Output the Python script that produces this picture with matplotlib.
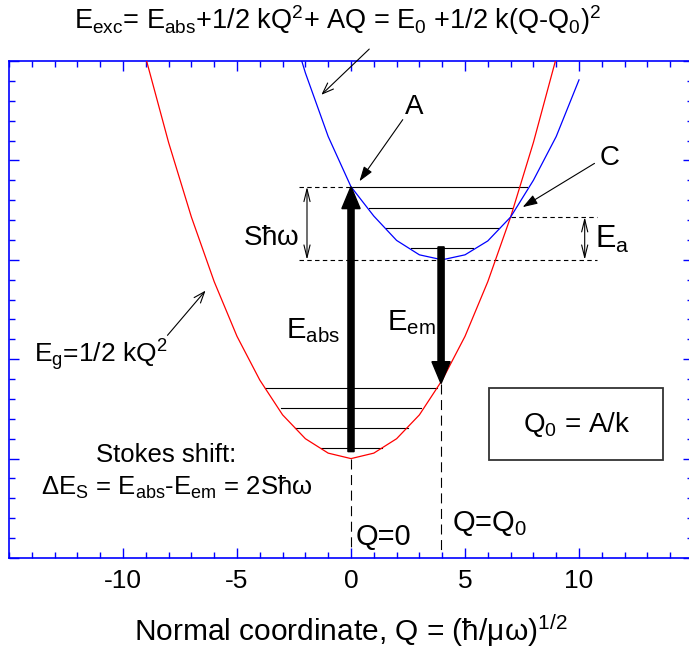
import matplotlib
matplotlib.use("Agg")
import matplotlib.pyplot as plt
from matplotlib.patches import Rectangle
from matplotlib.ticker import MultipleLocator

plt.rcParams['font.family'] = ['Liberation Sans', 'DejaVu Sans']
plt.rcParams['mathtext.fontset'] = 'custom'
plt.rcParams['mathtext.rm'] = 'Liberation Sans'
plt.rcParams['mathtext.it'] = 'Liberation Sans:italic'
plt.rcParams['mathtext.default'] = 'regular'
plt.rcParams['axes.unicode_minus'] = False

# * Data
# ground state parabola (red), polyline vertices
Q_g = [-10, -9, -8, -7, -6, -5, -4, -3, -2, -1, 0, 1, 2, 3, 4, 5, 6, 7, 8, 9, 10]
E_g = [50.0, 40.3, 31.8, 24.3, 17.8, 12.3, 7.9, 4.4, 2.0, 0.55, 0.0,
       0.55, 2.0, 4.4, 7.9, 12.3, 17.8, 24.3, 31.8, 40.3, 50.0]
# excited state parabola (blue)
Q_exc = [-3, -2, -1, 0, 1, 2, 3, 4, 5, 6, 7, 8, 9, 10]
E_exc = [46.3, 38.8, 32.4, 27.35, 24.4, 21.95, 20.5, 20.0, 20.5, 21.9,
         24.3, 28.0, 32.4, 38.1]

# vibrational levels : energy, left Q, right Q
lev_g_E = [7.13, 5.06, 3.05, 1.04]
lev_g_left = [-3.77, -3.05, -2.45, -1.3]
lev_g_right = [3.77, 3.07, 2.49, 1.38]
lev_exc_E = [27.35, 25.18, 23.17, 21.14]
lev_exc_left = [0.0, 0.8, 1.52, 2.64]
lev_exc_right = [7.7, 7.07, 6.5, 5.36]

x_ticks = [-10, -5, 0, 5, 10]

Q0 = 3.95          # excited state minimum
E0 = 20.0          # excited state minimum energy
E_A = 27.35        # point A (absorption end)
E_C = 24.3         # point C (crossing)
Q_C = 7.0
E_abs_start = 0.7
E_em_start = 21.3
E_em_end = 7.55

# * Plot
fig = plt.figure(figsize=(6.89, 6.52), dpi=100)
ax = fig.add_axes([9/689, 1-558/652, (693-9)/689, (558-61)/652])
ax.set_xlim(-15, 15)
ax.set_ylim(-10, 40)

ax.plot(Q_g, E_g, color='red', lw=0.9, zorder=3)
ax.plot(Q_exc, E_exc, color='blue', lw=0.9, zorder=3)

for e, l, r in zip(lev_g_E, lev_g_left, lev_g_right):
    ax.plot([l, r], [e, e], color='black', lw=0.8)
for e, l, r in zip(lev_exc_E, lev_exc_left, lev_exc_right):
    ax.plot([l, r], [e, e], color='black', lw=0.8)

# dashed guide lines
dash = dict(color='black', lw=0.8, ls=(0, (4, 3)))
vdash = dict(color='black', lw=0.8, ls=(0, (9, 5)))
ax.plot([-2.27, 0], [E_A, E_A], **dash)
ax.plot([-2.27, 10.8], [E0, E0], **dash)
ax.plot([Q_C, 10.8], [E_C, E_C], **dash)
ax.plot([0, 0], [0, -9.2], **vdash)
ax.plot([Q0, Q0], [E_em_end, -9.2], **vdash)

# thick absorption / emission arrows
ax.arrow(0, E_abs_start, 0, E_A - E_abs_start, width=0.27, head_width=0.8,
         head_length=2.2, length_includes_head=True, color='black', zorder=4)
ax.arrow(Q0, E_em_start, 0, E_em_end - E_em_start, width=0.27, head_width=0.8,
         head_length=2.2, length_includes_head=True, color='black', zorder=4)

# double arrows
dbl = dict(arrowstyle='<->,head_length=0.9,head_width=0.22', color='black', lw=0.8,
           shrinkA=0, shrinkB=0)
ax.annotate('', xy=(-1.93, E0), xytext=(-1.93, E_A), arrowprops=dbl)
ax.annotate('', xy=(10.25, E0), xytext=(10.25, E_C), arrowprops=dbl)

# pointer arrows
filled = dict(arrowstyle='-|>,head_length=0.9,head_width=0.3', color='black', lw=0.8,
              shrinkA=0, shrinkB=0)
opened = dict(arrowstyle='->,head_length=0.8,head_width=0.3', color='black', lw=0.8,
              shrinkA=0, shrinkB=0)
ax.annotate('', xy=(0.37, 27.9), xytext=(2.27, 34.1), arrowprops=filled)
ax.annotate('', xy=(7.53, 25.3), xytext=(10.68, 29.7), arrowprops=filled)
ax.annotate('', xy=(-1.3, 36.6), xytext=(0.8, 41.2), arrowprops=opened,
            annotation_clip=False)
ax.annotate('', xy=(-6.38, 16.9), xytext=(-8.05, 12.4), arrowprops=opened)

# texts
fig.text(337.5/689, 1-20/652,
         r'$E_{exc}$= $E_{abs}$+1/2 kQ$^2$+ AQ = $E_0$ +1/2 k(Q-Q$_0$)$^2$',
         ha='center', va='center', fontsize=19.5)
ax.text(2.78, 35.4, 'A', ha='center', va='center', fontsize=20)
ax.text(11.33, 30.2, 'C', ha='center', va='center', fontsize=20)
ax.text(-3.5, 22.2, r'S$\hbar\omega$', ha='center', va='center', fontsize=20)
ax.text(-1.65, 12.9, r'$E_{abs}$', ha='center', va='center', fontsize=21)
ax.text(2.65, 13.7, r'$E_{em}$', ha='center', va='center', fontsize=21)
ax.text(11.45, 22.0, r'$E_a$', ha='center', va='center', fontsize=22)
ax.text(-13.9, 10.4, r'$E_g$=1/2 kQ$^2$', ha='left', va='center', fontsize=19)
ax.text(-8.1, 0.36, 'Stokes shift:', ha='center', va='center', fontsize=18.5)
ax.text(-13.6, -2.86, r'$\Delta E_S$ = $E_{abs}$-$E_{em}$ = 2S$\hbar\omega$',
        ha='left', va='center', fontsize=18.5)
ax.text(0.2, -7.9, 'Q=0', ha='left', va='center', fontsize=21)
ax.text(4.45, -6.5, r'Q=Q$_0$', ha='left', va='center', fontsize=21)
ax.add_patch(Rectangle((6.07, -0.14), 13.7 - 6.07, 7.1 + 0.14, fill=False,
                       edgecolor='#333333', lw=1.3))
ax.text(9.9, 3.4, r'Q$_0$ = A/k', ha='center', va='center', fontsize=20)

# axes style
for s in ax.spines.values():
    s.set_color('blue')
    s.set_linewidth(1.2)
ax.set_xticks(x_ticks)
ax.xaxis.set_minor_locator(MultipleLocator(1))
ax.yaxis.set_major_locator(MultipleLocator(10))
ax.yaxis.set_minor_locator(MultipleLocator(2))
ax.tick_params(which='both', direction='in', top=True, right=True, color='blue',
               labelleft=False, labelsize=19, pad=8)
ax.tick_params(which='major', length=7, width=1)
ax.tick_params(which='minor', length=4, width=1)
ax.set_xlabel(r'Normal coordinate, Q = ($\hbar$/$\mu\omega$)$^{1/2}$', fontsize=21.5,
              labelpad=14)

plt.savefig('out.png', dpi=100)
